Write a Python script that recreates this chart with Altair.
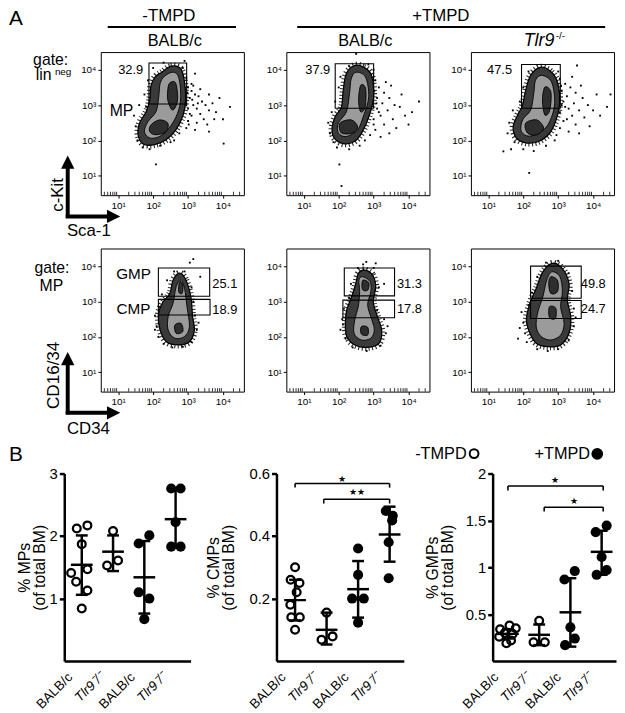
import altair as alt
import numpy as np
import pandas as pd

FONT = "Liberation Sans"

# ---------------- Panel A: flow plots, values in log10 units ----------------
# contour rings (level 1 outer, 2 middle, 3 cores)
P11_OUT = [(2.25,3.93),(2.51,4.10),(2.79,4.03),(2.90,3.65),(2.93,3.14),(2.86,2.72),(2.65,2.30),(2.37,2.02),(2.04,1.88),(1.71,1.90),(1.57,2.16),(1.61,2.49),(1.80,2.81),(1.90,3.14),(1.94,3.56),(2.07,3.81)]
P11_MID = [(2.32,3.81),(2.56,3.93),(2.73,3.79),(2.79,3.23),(2.70,2.77),(2.46,2.35),(2.18,2.11),(1.90,2.07),(1.75,2.25),(1.85,2.53),(2.08,2.81),(2.16,3.23),(2.20,3.61)]
P11_C1 = [(2.51,3.65),(2.65,3.61),(2.70,3.14),(2.56,2.86),(2.42,3.14),(2.43,3.51)]
P11_C2 = [(1.94,2.44),(2.18,2.58),(2.42,2.49),(2.37,2.25),(2.08,2.16),(1.90,2.25)]

P12_OUT = [(2.45,4.12),(2.72,4.07),(2.94,3.84),(3.0,3.23),(2.88,2.72),(2.68,2.25),(2.45,1.97),(2.13,1.91),(1.87,2.07),(1.81,2.35),(1.90,2.67),(2.08,2.95),(2.13,3.42),(2.22,3.89)]
P12_MID = [(2.50,3.93),(2.77,3.79),(2.86,3.23),(2.72,2.72),(2.54,2.30),(2.22,2.11),(1.99,2.21),(1.99,2.49),(2.22,2.81),(2.31,3.33),(2.36,3.75)]
P12_C1 = [(2.63,3.56),(2.77,3.47),(2.76,2.95),(2.63,2.81),(2.57,3.14)]
P12_C2 = [(2.04,2.49),(2.36,2.58),(2.54,2.39),(2.40,2.21),(2.08,2.21)]

P13_OUT = [(2.49,4.07),(2.81,3.93),(2.99,3.61),(3.04,3.05),(2.94,2.58),(2.76,2.21),(2.44,1.97),(2.07,1.93),(1.80,2.07),(1.71,2.39),(1.84,2.72),(1.98,3.0),(2.07,3.42),(2.21,3.84)]
P13_MID = [(2.53,3.84),(2.81,3.65),(2.90,3.05),(2.76,2.54),(2.53,2.26),(2.17,2.12),(1.94,2.26),(1.98,2.58),(2.21,2.86),(2.30,3.33),(2.35,3.70)]
P13_C1 = [(2.62,3.51),(2.79,3.37),(2.76,2.86),(2.62,2.72),(2.55,3.14)]
P13_C2 = [(2.07,2.49),(2.39,2.58),(2.58,2.35),(2.39,2.16),(2.12,2.21)]

P21_OUT = [(2.76,3.80),(2.94,3.60),(3.08,3.13),(3.13,2.57),(3.18,2.19),(3.04,1.86),(2.71,1.77),(2.38,1.86),(2.20,2.19),(2.15,2.62),(2.26,2.95),(2.48,3.23),(2.57,3.60)]
P21_MID = [(2.79,3.60),(2.90,3.37),(2.97,2.85),(3.04,2.29),(2.90,2.01),(2.62,1.96),(2.43,2.19),(2.43,2.57),(2.57,2.95),(2.66,3.42)]
P21_C1 = [(2.76,3.56),(2.85,3.46),(2.83,3.23),(2.73,3.28)]
P21_C2 = [(2.62,2.33),(2.80,2.38),(2.85,2.15),(2.66,2.10)]

P22_OUT = [(2.74,3.89),(2.97,3.75),(3.06,3.42),(2.99,2.99),(3.11,2.57),(3.23,2.19),(3.16,1.82),(2.83,1.70),(2.46,1.77),(2.23,2.01),(2.19,2.38),(2.23,2.76),(2.37,3.13),(2.49,3.51),(2.56,3.79)]
P22_MID = [(2.69,3.70),(2.90,3.56),(2.92,3.28),(2.83,2.90),(2.95,2.48),(3.02,2.19),(2.92,1.96),(2.65,1.91),(2.44,2.10),(2.46,2.48),(2.56,2.85),(2.60,3.28),(2.58,3.61)]
P22_C1 = [(2.69,3.60),(2.86,3.53),(2.83,3.32),(2.68,3.34)]
P22_C2 = [(2.65,2.29),(2.83,2.27),(2.83,2.05),(2.65,2.08)]

P23_OUT = [(2.84,4.08),(3.12,3.93),(3.31,3.51),(3.26,3.04),(3.36,2.57),(3.31,2.10),(3.07,1.77),(2.70,1.72),(2.37,1.82),(2.19,2.10),(2.09,2.48),(2.19,2.95),(2.37,3.37),(2.56,3.84)]
P23_MID = [(2.82,3.84),(3.05,3.70),(3.12,3.28),(3.07,2.85),(3.17,2.38),(3.07,2.05),(2.79,1.91),(2.51,2.01),(2.37,2.29),(2.42,2.71),(2.56,3.13),(2.67,3.60)]
P23_C1 = [(2.79,3.70),(2.98,3.60),(2.98,3.28),(2.79,3.23),(2.73,3.51)]
P23_C2 = [(2.75,2.85),(2.93,2.81),(2.92,2.52),(2.75,2.55)]

RINGS = {
    "p11": [(1, P11_OUT), (2, P11_MID), (3, P11_C1), (3, P11_C2)],
    "p12": [(1, P12_OUT), (2, P12_MID), (3, P12_C1), (3, P12_C2)],
    "p13": [(1, P13_OUT), (2, P13_MID), (3, P13_C1), (3, P13_C2)],
    "p21": [(1, P21_OUT), (2, P21_MID), (3, P21_C1), (3, P21_C2)],
    "p22": [(1, P22_OUT), (2, P22_MID), (3, P22_C1), (3, P22_C2)],
    "p23": [(1, P23_OUT), (2, P23_MID), (3, P23_C1), (3, P23_C2)],
}

# outlying events (dots)
D11 = [(3.0,3.5),(3.1,3.4),(3.2,3.3),(3.05,3.2),(3.3,3.25),(3.4,3.1),(3.15,3.0),(3.5,3.0),(3.25,2.9),(3.6,2.85),(3.0,2.9),(3.35,2.75),(3.7,3.05),(3.1,2.7),(3.45,2.6),(3.8,2.8),(3.0,2.55),(3.25,2.5),(3.55,2.45),(3.9,3.2),(2.95,2.35),(3.2,2.3),(3.6,2.25),(4.2,2.95),(3.75,2.6),(3.1,3.6),(3.35,3.45),(2.95,3.75),(2.85,4.05),(3.6,3.3),(4.0,2.6),(3.15,3.55),(2.95,3.0),(3.05,2.75),(2.98,3.35),(3.12,3.15),(3.02,2.45),(3.28,3.05),
       (1.5,2.4),(1.45,2.7),(1.55,2.0),(1.7,1.8),(1.9,1.75),(2.2,1.85),(2.5,1.95),(1.6,3.0),(1.75,3.3),(1.85,3.7),(2.6,2.0),(2.75,2.2),(2.0,4.05),(2.3,4.2),(2.9,4.25),(1.8,2.95),(2.08,1.32),(4.02,1.91),(3.2,3.89)]
D12 = [(3.05,3.7),(3.15,3.5),(3.3,3.35),(3.1,3.2),(3.45,3.2),(3.25,3.05),(3.6,3.0),(3.1,2.9),(3.4,2.85),(3.75,2.95),(3.2,2.7),(3.55,2.6),(3.0,2.6),(3.9,2.7),(3.3,2.45),(3.65,2.35),(3.05,2.3),(4.1,2.8),(3.45,2.2),(2.9,2.15),(3.2,2.1),(4.3,3.1),(3.8,3.3),(3.5,3.55),(4.0,2.45),(3.35,3.65),(3.0,4.0),(2.85,4.15),(3.02,3.4),(3.08,3.05),(3.15,2.8),(3.0,2.45),
       (1.75,2.2),(1.7,2.5),(1.8,2.8),(1.95,1.8),(2.3,1.75),(2.6,1.85),(1.9,3.1),(2.0,3.5),(2.05,3.8),(1.85,1.95),(2.75,2.0),(2.3,4.1),(2.02,1.32),(2.08,0.71),(2.5,4.45)]
D13 = [(3.05,3.75),(3.2,3.6),(3.35,3.5),(3.1,3.4),(3.5,3.35),(3.25,3.25),(3.7,3.2),(3.15,3.1),(3.45,3.05),(3.85,3.0),(3.3,2.9),(3.6,2.85),(3.05,2.8),(4.0,2.85),(3.4,2.7),(3.75,2.65),(3.15,2.55),(4.2,2.7),(3.5,2.45),(3.9,2.4),(3.05,2.35),(3.3,2.25),(4.4,2.95),(4.1,3.3),(3.65,3.55),(3.0,3.95),(3.4,3.8),(4.5,3.3),(3.6,2.2),(2.95,2.15),(3.1,3.0),(3.2,2.95),(3.08,3.55),(3.25,2.6),
       (1.55,2.2),(1.6,2.5),(1.7,2.85),(1.75,1.95),(2.0,1.75),(2.3,1.7),(2.65,1.85),(1.9,3.1),(2.0,3.5),(2.15,3.95),(1.65,1.75),(2.9,2.0),(2.17,1.08),(3.54,4.12),(1.43,1.69)]
D21 = [(2.1,2.3),(2.05,2.6),(2.15,2.0),(2.3,1.8),(2.55,1.7),(2.85,1.72),(3.1,1.85),(3.25,2.2),(3.2,2.6),(3.15,3.0),(3.1,3.4),(2.9,3.85),(2.6,3.85),(2.4,3.6),(2.25,3.2),(2.2,2.85),(3.3,2.4),(2.05,2.2),(3.35,3.7),(3.15,4.2),(3.05,4.1)]
D22 = [(2.1,2.5),(2.15,2.8),(2.05,2.2),(2.2,1.95),(2.4,1.7),(2.8,1.6),(3.2,1.75),(3.35,2.1),(3.3,2.5),(3.1,2.75),(3.15,3.4),(3.0,3.95),(2.55,3.95),(2.35,3.5),(2.3,3.1),(3.3,3.5),(2.7,4.05),(2.12,2.35),(3.4,2.3),(3.06,4.08),(2.79,4.12)]
D23 = [(2.0,2.4),(1.95,2.7),(2.05,2.1),(1.9,2.25),(2.1,1.85),(2.4,1.65),(2.7,1.6),(3.0,1.65),(3.3,1.9),(3.45,2.3),(3.45,2.8),(3.4,3.3),(3.3,3.8),(3.0,4.15),(2.65,4.1),(2.4,3.7),(2.25,3.25),(2.15,2.9),(1.85,1.95),(3.5,2.55)]
DOTS = {"p11": D11, "p12": D12, "p13": D13, "p21": D21, "p22": D22, "p23": D23}

# gates: (x0, x1, y0, y1)
GATES = {
    "p11": [(1.88, 2.96, 3.03, 4.19)],
    "p12": [(1.90, 3.00, 2.91, 4.17)],
    "p13": [(1.95, 3.06, 2.91, 4.15)],
    "p21": [(2.15, 3.62, 3.15, 3.95), (2.15, 3.63, 2.62, 3.06)],
    "p22": [(2.16, 3.60, 3.16, 3.95), (2.12, 3.60, 2.54, 3.04)],
    "p23": [(2.21, 3.66, 3.09, 4.00), (2.21, 3.66, 2.52, 3.03)],
}
DECADE_TICKS = [1, 2, 3, 4]
MINOR_MULT = [2, 3, 4, 5, 6, 7, 8, 9]

# ---------------- Panel B: dot plots (group, x offset, value) ----------------
GROUP_NAMES = ["BALB/c", "Tlr9⁻/⁻", "BALB/c", "Tlr9⁻/⁻"]
MP_PTS = [(1,-0.16,2.12),(1,0.18,2.17),(1,0.0,1.87),(1,-0.34,1.41),(1,0.18,1.47),(1,-0.18,1.27),(1,0.18,1.13),(1,0.0,0.84),
          (2,0.0,2.08),(2,-0.19,1.53),(2,0.16,1.61),
          (3,-0.18,1.88),(3,0.16,2.01),(3,-0.18,1.10),(3,0.16,1.00),(3,0.0,0.67),
          (4,-0.14,2.76),(4,0.16,2.76),(4,0.0,2.22),(4,-0.14,1.83),(4,0.16,1.83)]
MP_STATS = [(1,1.54,1.06,2.01),(2,1.75,1.44,2.01),(3,1.34,0.76,1.92),(4,2.27,1.83,2.76)]

CMP_PTS = [(1,0.0,0.30),(1,-0.14,0.26),(1,0.14,0.25),(1,0.05,0.22),(1,-0.15,0.18),(1,0.15,0.14),(1,-0.12,0.14),(1,0.0,0.10),
           (2,0.0,0.155),(2,-0.16,0.068),(2,0.19,0.079),
           (3,0.0,0.36),(3,0.0,0.276),(3,-0.19,0.20),(3,0.18,0.20),(3,0.0,0.123),
           (4,-0.12,0.48),(4,0.10,0.465),(4,0.08,0.45),(4,-0.03,0.38),(4,-0.03,0.265)]
CMP_STATS = [(1,0.195,0.13,0.26),(2,0.10,0.053,0.155),(3,0.23,0.139,0.32),(4,0.405,0.318,0.494)]
CMP_BRACKETS = [(1.0, 4.0, 0.568, 0.555), (1.91, 4.0, 0.518, 0.504)]
CMP_STARS = [(2.5, 0.583, "★"), (2.95, 0.542, "★★")]

GMP_PTS = [(1,0.05,0.38),(1,-0.25,0.34),(1,0.25,0.35),(1,-0.10,0.30),(1,0.15,0.29),(1,-0.28,0.26),(1,0.10,0.22),(1,-0.05,0.19),
           (2,0.0,0.43),(2,-0.18,0.20),(2,0.18,0.20),
           (3,-0.19,0.87),(3,0.14,0.96),(3,0.0,0.36),(3,0.14,0.24),(3,-0.17,0.17),
           (4,-0.19,1.375),(4,0.16,1.445),(4,0.0,1.11),(4,-0.16,0.92),(4,0.16,0.97)]
GMP_STATS = [(1,0.29,0.24,0.34),(2,0.28,0.17,0.39),(3,0.52,0.154,0.884),(4,1.165,0.92,1.39)]
GMP_BRACKETS = [(1.0, 4.05, 1.867, 1.82), (2.16, 4.05, 1.64, 1.595)]
GMP_STARS = [(2.52, 1.93, "★"), (3.1, 1.705, "★")]

ONE = pd.DataFrame({"a": [0]})


def ptext(txt, x, y, size, align="center", baseline="alphabetic", angle=0, style="normal"):
    kw = dict(text=txt, align=align, baseline=baseline, fontSize=size, fontStyle=style,
              color="black", font=FONT)
    if angle:
        kw["angle"] = angle
    return alt.Chart(ONE).mark_text(**kw).encode(x=alt.value(x), y=alt.value(y))


def hline(x1, x2, y, w):
    return alt.Chart(ONE).mark_rule(color="black", strokeWidth=w).encode(
        x=alt.value(x1), x2=alt.value(x2), y=alt.value(y))


def vline(x, y1, y2, w, opacity=1.0):
    return alt.Chart(ONE).mark_rule(color="black", strokeWidth=w, opacity=opacity).encode(
        x=alt.value(x), y=alt.value(y1), y2=alt.value(y2))


def sym(shape, x, y, size, filled=True, sw=0.0):
    kw = dict(shape=shape, filled=filled, color="black", size=size, opacity=1)
    if sw:
        kw["strokeWidth"] = sw
    return alt.Chart(ONE).mark_point(**kw).encode(x=alt.value(x), y=alt.value(y))


def spacer(w, h):
    return alt.Chart(ONE).mark_point(opacity=0).properties(
        width=w, height=h, view=alt.ViewBackground(stroke="transparent"))


def guide(x, top, bottom):
    # invisible rule fixing each row's outer bounds, so rows stack predictably
    return vline(x, top, bottom, 1, opacity=0)


XS = alt.Scale(domain=[0.5, 4.6], nice=False, zero=False)
YS = alt.Scale(domain=[0.45, 4.5], nice=False, zero=False)
LOGLAB = "'10' + ['⁰','¹','²','³','⁴'][datum.value]"
FAX = dict(values=DECADE_TICKS, labelExpr=LOGLAB, title=None, grid=False, domain=False,
           tickSize=3, tickWidth=1, labelFontSize=10, labelPadding=2)
XAX = alt.Axis(**FAX)
YAX = alt.Axis(**FAX)
MINOR = [d + np.log10(k) for d in range(0, 5) for k in MINOR_MULT if 0.5 < d + np.log10(k) < 4.6]

LEVEL_STYLE = {1: ("#3a3a3a", 1.3), 2: ("#9b9b9b", 0.9), 3: ("#2e2e2e", 0.9)}


def flow_panel(pid, extra):
    rows = []
    for r, (lev, pts) in enumerate(RINGS[pid]):
        for i, (x, y) in enumerate(pts):
            rows.append(dict(ring=r, level=lev, i=i, x=x, y=y))
    rd = pd.DataFrame(rows)
    X = alt.X("x:Q", scale=XS, axis=XAX)
    Y = alt.Y("y:Q", scale=YS, axis=YAX)
    dots = pd.DataFrame(DOTS[pid], columns=["x", "y"])
    layers = [alt.Chart(dots).mark_square(size=3.5, color="black", opacity=1).encode(x=X, y=Y)]
    # fuzzy edge of dense events around the outer contour
    layers.append(alt.Chart(rd[rd.level == 1]).mark_line(
        interpolate="cardinal-closed", stroke="black", strokeWidth=7, strokeDash=[1, 2.3], opacity=0.85
    ).encode(x=X, y=Y, detail="ring:N", order="i:Q"))
    for lev in (1, 2, 3):
        fill, sw = LEVEL_STYLE[lev]
        layers.append(
            alt.Chart(rd[rd.level == lev]).mark_line(
                interpolate="cardinal-closed", fill=fill, stroke="black", strokeWidth=sw
            ).encode(x=X, y=Y, detail="ring:N", order="i:Q"))
    g = pd.DataFrame(GATES[pid], columns=["x0", "x1", "y0", "y1"])
    layers.append(alt.Chart(g).mark_rect(fill="white", fillOpacity=0, stroke="black", strokeWidth=1.1).encode(
        x=alt.X("x0:Q", scale=XS, axis=XAX), x2="x1:Q",
        y=alt.Y("y0:Q", scale=YS, axis=YAX), y2="y1:Q"))
    layers.append(alt.Chart(pd.DataFrame({"m": MINOR})).mark_rule(color="black", strokeWidth=0.8).encode(
        x=alt.X("m:Q", scale=XS, axis=XAX), y=alt.value(145), y2=alt.value(141.5)))
    layers += extra
    return alt.layer(*layers).properties(
        width=145, height=145, view=alt.ViewBackground(stroke="black", strokeWidth=1))


TRI_UP = "M0,-1L1,1L-1,1Z"
TRI_RIGHT = "M1,0L-1,1L-1,-1Z"


def arrows(ylab, xlab, row2=False):
    out = [
        vline(-33.5, 117, 168, 4), sym(TRI_UP, -33.5, 111.5, 182),
        hline(-35.5, 9, 166.5, 4), sym(TRI_RIGHT, 13, 166.5, 182),
    ]
    if row2:
        out += [ptext(ylab, -47, 128.5, 17.3, baseline="middle", angle=270),
                ptext(xlab, -34.3, 188.3, 17, align="left")]
    else:
        out += [ptext(ylab, -43.5, 144.7, 17, baseline="middle", angle=270),
                ptext(xlab, -34.3, 186.3, 17, align="left")]
    return out


p11 = flow_panel("p11", [
    guide(-93.5, -44, 193),
    ptext("A", -93, -44, 21, align="left", baseline="top"),
    ptext("-TMPD", 69, -44, 17, baseline="top"),
    hline(7, 137, -25.5, 2),
    ptext("BALB/c", 75, -6, 16.5),
    ptext("gate:", -33, 13, 16, align="right"),
    ptext("lin", -50, 28, 16, align="right"),
    ptext("neg", -46.5, 23, 10, align="left"),
    ptext("MP", 21, 64.7, 16),
    ptext("32.9", 30.3, 22, 13),
] + arrows("c-Kit", "Sca-1"))

p12 = flow_panel("p12", [
    ptext("+TMPD", 156.5, -44, 17, baseline="top"),
    hline(11, 323, -25.5, 2),
    ptext("BALB/c", 80, -6, 16.5),
    ptext("37.9", 31.8, 22, 13),
])

p13 = flow_panel("p13", [
    ptext("Tlr9", 69, -6, 18, style="italic"),
    ptext("-/-", 86, -13, 10, align="left"),
    ptext("47.5", 29, 22, 13),
])

p21 = flow_panel("p21", [
    guide(-93.5, -4, 192.5),
    ptext("gate:", -31.7, 25, 16, align="right"),
    ptext("MP", -50, 43, 16),
    ptext("GMP", 33.2, 31, 15.5),
    ptext("CMP", 33.2, 66, 15.5),
    ptext("25.1", 113, 40.3, 13, align="left"),
    ptext("18.9", 113, 66, 13, align="left"),
] + arrows("CD16/34", "CD34", row2=True))

p22 = flow_panel("p22", [
    ptext("31.3", 112, 40.3, 13, align="left"),
    ptext("17.8", 112, 65, 13, align="left"),
])

p23 = flow_panel("p23", [
    ptext("49.8", 111.3, 40.3, 13, align="left"),
    ptext("24.7", 111.3, 65.5, 13, align="left"),
])


def b_panel(pts, stats, ydom, yvals, yfmt, title, tpad, width, xdom, brackets, stars, extra):
    df = pd.DataFrame(pts, columns=["g", "off", "v"])
    df["x"] = df["g"] + df["off"]
    st = pd.DataFrame(stats, columns=["g", "mean", "lo", "hi"])
    xs = alt.Scale(domain=xdom, nice=False, zero=False)
    ys = alt.Scale(domain=ydom, nice=False, zero=False)
    xax = alt.Axis(values=[1, 2, 3, 4],
                   labelExpr="['', '%s', '%s', '%s', '%s'][datum.value]" % tuple(GROUP_NAMES),
                   labelAngle=315, labelFontSize=13.5, ticks=False, domainWidth=2.5, grid=False,
                   title=None, labelPadding=9, labelOffset=-17, labelOverlap=False, labelBound=False,
                   labelFontStyle={"condition": {"test": "datum.value % 2 == 0", "value": "italic"},
                                   "value": "normal"})
    yax = alt.Axis(values=yvals, format=yfmt, title=title, titleFontSize=16, titlePadding=tpad,
                   titleLineHeight=15, labelFontSize=15, tickSize=5, tickWidth=2.5, domainWidth=2.5,
                   grid=False, labelPadding=2, labelOverlap=False)

    def X(f):
        return alt.X(f, scale=xs, axis=xax)

    def Y(f):
        return alt.Y(f, scale=ys, axis=yax)

    layers = [
        alt.Chart(df[df.g <= 2]).mark_point(shape="circle", filled=False, color="black",
                                            strokeWidth=2.3, size=62, opacity=1).encode(x=X("x:Q"), y=Y("v:Q")),
        alt.Chart(df[df.g >= 3]).mark_circle(color="black", size=105, opacity=1).encode(x=X("x:Q"), y=Y("v:Q")),
        alt.Chart(st).mark_rule(color="black", strokeWidth=2.5).encode(x=X("g:Q"), y=Y("lo:Q"), y2="hi:Q"),
        alt.Chart(st).mark_tick(orient="horizontal", color="black", size=22, thickness=2.5, opacity=1).encode(
            x=X("g:Q"), y=Y("mean:Q")),
        alt.Chart(st).mark_tick(orient="horizontal", color="black", size=12, thickness=2.5, opacity=1).encode(
            x=X("g:Q"), y=Y("lo:Q")),
        alt.Chart(st).mark_tick(orient="horizontal", color="black", size=12, thickness=2.5, opacity=1).encode(
            x=X("g:Q"), y=Y("hi:Q")),
    ]
    if brackets:
        br = pd.DataFrame(brackets, columns=["x1", "x2", "y", "yend"])
        layers.append(alt.Chart(br).mark_rule(color="black", strokeWidth=1.6).encode(
            x=X("x1:Q"), x2="x2:Q", y=Y("y:Q")))
        layers.append(alt.Chart(br).mark_rule(color="black", strokeWidth=1.6).encode(
            x=X("x1:Q"), y=Y("y:Q"), y2="yend:Q"))
        layers.append(alt.Chart(br).mark_rule(color="black", strokeWidth=1.6).encode(
            x=X("x2:Q"), y=Y("y:Q"), y2="yend:Q"))
        sd = pd.DataFrame(stars, columns=["x", "y", "t"])
        layers.append(alt.Chart(sd).mark_text(fontSize=9, color="black", baseline="middle").encode(
            x=X("x:Q"), y=Y("y:Q"), text="t:N"))
    layers += extra
    return alt.layer(*layers).properties(width=width, height=190,
                                         view=alt.ViewBackground(stroke="transparent"))


b1 = b_panel(MP_PTS, MP_STATS, [0, 3], [1, 2, 3], "d", ["% MPs", "(of total BM)"], 2, 128,
             [0.44, 4.48], None, None, [guide(-56.5, -34.5, 232), ptext("B", -56, -13, 21, align="left")])
b2 = b_panel(CMP_PTS, CMP_STATS, [0, 0.6], [0.2, 0.4, 0.6], ".1f", ["% CMPs", "(of total BM)"], 13, 129,
             [0.41, 4.45], CMP_BRACKETS, CMP_STARS, [])
b3 = b_panel(GMP_PTS, GMP_STATS, [0, 2], [0.5, 1, 1.5, 2], "~g", ["% GMPs", "(of total BM)"], 10, 125,
             [0.51, 4.46], GMP_BRACKETS, GMP_STARS, [
                 ptext("-TMPD", -26.3, -14.3, 16.5, align="right"),
                 sym("circle", -18.8, -20.2, 80, filled=False, sw=2),
                 ptext("+TMPD", 98.7, -14.3, 16.5, align="right"),
                 sym("circle", 106, -20, 140),
             ])

row1 = alt.hconcat(spacer(37, 145), p11, spacer(43, 145), p12, spacer(42, 145), p13, spacing=0, bounds="flush")
row2 = alt.hconcat(spacer(37, 145), p21, spacer(43, 145), p22, spacer(42, 145), p23, spacing=0, bounds="flush")
rowB = alt.hconcat(b1, spacer(87, 190), b2, spacer(90, 190), b3, spacing=0, bounds="flush")

chart = alt.vconcat(row1, row2, rowB, spacing=0, bounds="full").properties(
    padding={"top": -6, "left": 0, "right": 0, "bottom": 0}
).configure(font=FONT).configure_axis(
    labelColor="black", titleColor="black", domainColor="black", tickColor="black",
    labelFont=FONT, titleFont=FONT, titleFontWeight="normal"
).configure_text(font=FONT)

chart.save("out.html", embed_options={"renderer": "svg", "actions": False})
